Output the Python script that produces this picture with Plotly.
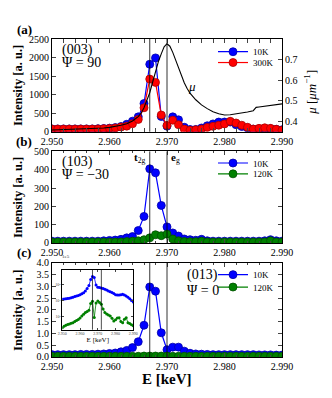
import plotly.graph_objects as go

# energy grid (keV)
energy = [2.950, 2.951, 2.952, 2.953, 2.954, 2.955, 2.956, 2.957, 2.958, 2.959,
          2.960, 2.961, 2.962, 2.963, 2.964, 2.965, 2.966, 2.967, 2.968, 2.969,
          2.970, 2.971, 2.972, 2.973, 2.974, 2.975, 2.976, 2.977, 2.978, 2.979,
          2.980, 2.981, 2.982, 2.983, 2.984, 2.985, 2.986, 2.987, 2.988, 2.989,
          2.990]

# (a) (003), psi = 90
a_10k = [75, 75, 75, 75, 75, 75, 75, 75, 80, 85,
         95, 110, 140, 200, 285, 400, 760, 1820, 1990, 410,
         150, 400, 320, 120, 60, 60, 100, 160, 210, 260,
         260, 260, 190, 140, 100, 70, 75, 80, 80, 65,
         50]
a_300k = [70, 70, 70, 70, 70, 70, 70, 70, 75, 80,
          88, 100, 125, 150, 215, 330, 645, 1420, 1330, 450,
          170, 310, 190, 70, 40, 50, 70, 115, 145, 175,
          210, 280, 235, 175, 120, 70, 90, 105, 90, 65,
          40]

# absorption mu (right axis)
mu_energy = [2.950, 2.951, 2.952, 2.953, 2.954, 2.955, 2.956, 2.957, 2.958, 2.959,
             2.960, 2.961, 2.962, 2.963, 2.964, 2.965, 2.9655, 2.966, 2.9665, 2.967,
             2.9675, 2.968, 2.9685, 2.969, 2.9695, 2.970, 2.9705, 2.971, 2.9715, 2.972,
             2.9725, 2.973, 2.9735, 2.974, 2.975, 2.976, 2.977, 2.978, 2.979, 2.980,
             2.981, 2.982, 2.983, 2.984, 2.985, 2.9855, 2.986, 2.987, 2.988, 2.989,
             2.990]
mu = [0.358, 0.359, 0.359, 0.360, 0.361, 0.362, 0.363, 0.364, 0.366, 0.368,
      0.371, 0.375, 0.381, 0.389, 0.402, 0.423, 0.440, 0.466, 0.498, 0.539,
      0.590, 0.643, 0.690, 0.728, 0.762, 0.777, 0.765, 0.735, 0.698, 0.658,
      0.620, 0.588, 0.560, 0.537, 0.505, 0.480, 0.462, 0.447, 0.437, 0.431,
      0.432, 0.436, 0.441, 0.446, 0.452, 0.468, 0.470, 0.473, 0.477, 0.481,
      0.485]

# (b) (103), psi = -30
b_10k = [10, 10, 10, 10, 10, 10, 10, 10, 10, 12,
         14, 16, 20, 28, 35, 68, 145, 405, 383, 205,
         88, 55, 38, 22, 18, 15, 20, 12, 10, 10,
         10, 10, 10, 10, 10, 10, 10, 12, 18, 12,
         10]
b_120k = [5, 5, 5, 5, 5, 5, 5, 5, 5, 5,
          5, 5, 6, 8, 10, 12, 18, 28, 45, 40,
          48, 22, 12, 8, 7, 7, 10, 6, 5, 5,
          5, 5, 5, 5, 5, 5, 5, 6, 12, 6,
          5]

# (c) (013), psi = 0  (x 1e5)
c_10k = [0.10, 0.10, 0.10, 0.10, 0.10, 0.11, 0.11, 0.11, 0.12, 0.13,
         0.15, 0.17, 0.22, 0.28, 0.40, 0.65, 1.35, 2.98, 2.80, 1.03,
         0.31, 0.42, 0.42, 0.25, 0.16, 0.13, 0.12, 0.11, 0.10, 0.10,
         0.10, 0.10, 0.10, 0.10, 0.10, 0.10, 0.09, 0.09, 0.09, 0.08,
         0.08]
c_120k = [0.03, 0.03, 0.03, 0.03, 0.03, 0.03, 0.03, 0.03, 0.03, 0.03,
          0.03, 0.03, 0.03, 0.03, 0.03, 0.03, 0.04, 0.04, 0.04, 0.04,
          0.04, 0.03, 0.03, 0.03, 0.03, 0.03, 0.03, 0.03, 0.03, 0.03,
          0.03, 0.03, 0.03, 0.03, 0.03, 0.03, 0.03, 0.03, 0.03, 0.03,
          0.03]
c_ticks = [0.0, 0.5, 1.0, 1.5, 2.0, 2.5, 3.0, 3.5, 4.0]

# inset of (c), log scale
inset_10k = [1.2e4, 1.25e4, 1.3e4, 1.35e4, 1.4e4, 1.5e4, 1.6e4, 1.75e4, 1.9e4, 2.05e4,
             2.3e4, 2.6e4, 3.0e4, 3.8e4, 5.5e4, 8.5e4, 2.0e5, 3.0e5, 2.6e5, 9.0e4,
             6.5e4, 6.3e4, 6.0e4, 5.5e4, 5.0e4, 4.5e4, 3.9e4, 3.5e4, 3.1e4, 2.7e4,
             2.3e4, 2.2e4, 2.2e4, 2.3e4, 2.4e4, 2.2e4, 1.9e4, 1.6e4, 1.3e4, 1.0e4,
             8.0e3]
inset_120k = [210, 260, 300, 330, 360, 390, 430, 500, 580, 680,
              850, 1100, 1400, 1800, 2100, 2500, 6500, 9000, 900, 7000,
              9300, 7500, 5800, 3000, 1800, 1500, 1300, 1100, 800, 540,
              650, 850, 870, 500, 430, 700, 870, 430, 380, 320,
              280]

edge_lines = [2.967, 2.970]
inset_lines = [2.967, 2.972]

FONT = "Liberation Serif"
BLUE, RED, GREEN = "#0000ff", "#ff0000", "#008000"


def pts(x, y, color, edge, name, xa, ya, legend, size=8):
    return go.Scatter(x=x, y=y, mode="lines+markers", name=name,
                      xaxis=xa, yaxis=ya, legend=legend,
                      line=dict(color=color, width=1.2),
                      marker=dict(color=color, size=size, line=dict(color=edge, width=0.8)))


fig = go.Figure()
fig.add_trace(pts(energy, a_10k, BLUE, "#0000aa", "10K", "x", "y", "legend"))
fig.add_trace(pts(energy, a_300k, RED, "#aa0000", "300K", "x", "y", "legend2"))
fig.add_trace(go.Scatter(x=mu_energy, y=mu, mode="lines", xaxis="x", yaxis="y5",
                         line=dict(color="black", width=1.1), showlegend=False))
fig.add_trace(pts(energy, b_10k, BLUE, "#0000aa", "10K", "x2", "y2", "legend3"))
fig.add_trace(pts(energy, b_120k, GREEN, "#005000", "120K", "x2", "y2", "legend4"))
fig.add_trace(pts(energy, c_10k, BLUE, "#0000aa", "10K", "x3", "y3", "legend5"))
fig.add_trace(pts(energy, c_120k, GREEN, "#005000", "120K", "x3", "y3", "legend6"))
fig.add_trace(go.Scatter(x=energy, y=inset_10k, mode="lines+markers", xaxis="x4", yaxis="y4",
                         line=dict(color=BLUE, width=0.8), marker=dict(color=BLUE, size=3),
                         showlegend=False))
fig.add_trace(go.Scatter(x=energy, y=inset_120k, mode="lines+markers", xaxis="x4", yaxis="y4",
                         line=dict(color=GREEN, width=0.8), marker=dict(color=GREEN, size=3),
                         showlegend=False))

xcommon = dict(range=[2.950, 2.990], dtick=0.01, tickformat=".3f", ticks="inside", ticklen=4,
               mirror="allticks", showline=True, linecolor="black", linewidth=1,
               showgrid=False, zeroline=False, tickfont=dict(size=10, color="black"),
               minor=dict(ticks="inside", ticklen=2, dtick=0.002, showgrid=False))
ycommon = dict(ticks="inside", ticklen=4, showline=True, linecolor="black", linewidth=1,
               showgrid=False, zeroline=False, tickfont=dict(size=10, color="black"))

dom_a, dom_b, dom_c = [0.7085, 1.0], [0.3585, 0.6465], [0.0, 0.2956]

# page body adds an 8px offset, so the figure is drawn 8px smaller
fig.update_layout(
    width=324, height=390,
    margin=dict(l=44, r=50, t=31, b=41),
    paper_bgcolor="white", plot_bgcolor="white",
    font=dict(family=FONT, color="black"),
    xaxis=dict(xcommon, anchor="y", domain=[0, 1]),
    xaxis2=dict(xcommon, anchor="y2", domain=[0, 1]),
    xaxis3=dict(xcommon, anchor="y3", domain=[0, 1]),
    yaxis=dict(ycommon, domain=dom_a, range=[0, 2500], dtick=500, mirror=True, anchor="x"),
    yaxis5=dict(ycommon, overlaying="y", side="right", anchor="x", range=[0.35, 0.80],
                tickvals=[0.4, 0.5, 0.6, 0.7]),
    yaxis2=dict(ycommon, domain=dom_b, range=[0, 500], dtick=100, mirror="allticks", anchor="x2"),
    yaxis3=dict(ycommon, domain=dom_c, range=[0, 4.0], tickvals=c_ticks,
                ticktext=[f"{v:.1f}" for v in c_ticks], mirror="allticks", anchor="x3"),
    xaxis4=dict(range=[2.950, 2.990], dtick=0.01, tickformat=".3f", ticks="inside", ticklen=2,
                mirror="allticks", showline=True, linecolor="black", linewidth=0.8,
                showgrid=False, zeroline=False, anchor="y4", domain=[0.0448, 0.3535],
                tickfont=dict(size=4, color="#444"),
                title=dict(text="E [keV]", font=dict(size=7), standoff=1)),
    yaxis4=dict(type="log", range=[2.2, 5.9], tickvals=[1e3, 1e4, 1e5],
                ticktext=["10³", "10⁴", "10⁵"], ticks="inside", ticklen=2,
                mirror="allticks", showline=True, linecolor="black", linewidth=0.8,
                showgrid=False, zeroline=False, anchor="x4", domain=[0.0858, 0.2745],
                tickfont=dict(size=4, color="#444")),
)

# legends, one entry each
leg_rows = {"legend": 0.960, "legend2": 0.926, "legend3": 0.610,
            "legend4": 0.576, "legend5": 0.259, "legend6": 0.220}
for key, yv in leg_rows.items():
    fig.update_layout({key: dict(x=0.70, y=yv, xanchor="left", yanchor="middle",
                                 bgcolor="rgba(0,0,0,0)", itemwidth=30,
                                 font=dict(family=FONT, size=9, color="black"))})

# vertical reference lines
for xa in ["x", "x2", "x3"]:
    ya = "y" if xa == "x" else "y" + xa[1:]
    for e in edge_lines:
        fig.add_shape(type="line", xref=xa, yref=ya + " domain", x0=e, x1=e, y0=0, y1=1,
                      line=dict(color="black", width=0.8))
for e in inset_lines:
    fig.add_shape(type="line", xref="x4", yref="y4 domain", x0=e, x1=e, y0=0, y1=1,
                  line=dict(color="black", width=0.7))

for t, yv in [("<b>(a)</b>", 1.029), ("<b>(b)</b>", 0.677), ("<b>(c)</b>", 0.328)]:
    fig.add_annotation(text=t, xref="paper", yref="paper", x=-0.12, y=yv, showarrow=False,
                       xanchor="center", yanchor="middle", font=dict(size=13))

for yv in [0.855, 0.503, 0.148]:
    fig.add_annotation(text="<b>Intensity [a. u.]</b>", xref="paper", yref="paper",
                       x=-0.148, y=yv, textangle=-90, showarrow=False,
                       xanchor="center", yanchor="middle", font=dict(size=12.5))
fig.add_annotation(text="<i>μ</i> [<i>μm</i><sup>−1</sup>]", xref="paper", yref="paper",
                   x=1.122, y=0.831, textangle=-90, showarrow=False,
                   xanchor="center", yanchor="middle", font=dict(size=13))
fig.add_annotation(text="<b>E [keV]</b>", xref="paper", yref="paper", x=0.5,
                   y=-0.068, showarrow=False, xanchor="center", yanchor="middle",
                   font=dict(size=15))

labels = [
    ("(003)", 0.0348, 0.966), ("Ψ = 90", 0.0348, 0.925),
    ("(103)", 0.0348, 0.614), ("Ψ = −30", 0.0348, 0.574),
    ("(013)", 0.578, 0.259), ("Ψ = 0", 0.578, 0.208),
]
for t, xv, yv in labels:
    fig.add_annotation(text=t, xref="paper", yref="paper", x=xv, y=yv, xanchor="left",
                       yanchor="middle", showarrow=False, font=dict(size=14))

fig.add_annotation(text="<i>μ</i>", xref="x", yref="y5", x=2.9744, y=0.569,
                   showarrow=False, font=dict(size=13))
fig.add_annotation(text="<b>t</b><sub>2g</sub>", xref="x2", yref="paper", x=2.9667, y=0.627,
                   xanchor="right", showarrow=False, font=dict(size=11))
fig.add_annotation(text="<b>e</b><sub>g</sub>", xref="x2", yref="paper", x=2.9704, y=0.627,
                   xanchor="left", showarrow=False, font=dict(size=11))
fig.add_annotation(text="1e5", xref="paper", yref="paper", x=0.035, y=0.303,
                   xanchor="left", showarrow=False, font=dict(size=5, color="#333"))

fig.write_html("out.html")
